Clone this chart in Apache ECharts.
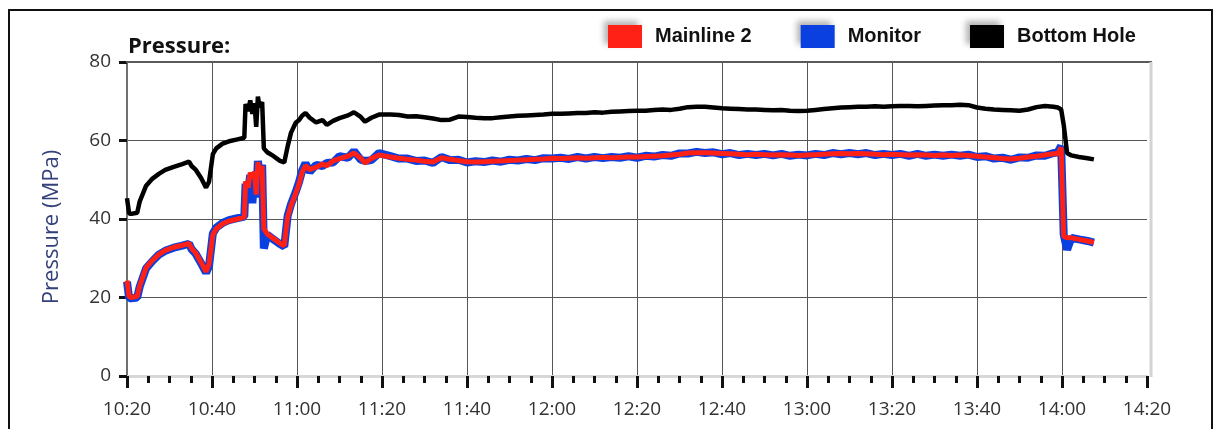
<!DOCTYPE html>
<html>
<head>
<meta charset="utf-8">
<script src="https://cdn.jsdelivr.net/npm/echarts@6/dist/echarts.min.js"></script>
<style>
html,body{margin:0;padding:0;background:#fff;}
#chart{width:1220px;height:429px;}
</style>
</head>
<body>
<div id="chart"></div>
<script>
// Time in minutes after 10:20
const minutes = [
  0, 0.5, 1, 2.4, 3, 4.5, 6, 7.5, 9, 11, 13, 14.6, 15.2, 16.2, 17.4, 18.6, 19.3, 20.2, 21, 22.5,
  24, 26, 27.6, 27.9, 28.5, 29, 29.5, 30, 30.4, 30.8, 31.2, 31.8, 32.2, 33, 34.5, 36, 37, 37.8, 38.6, 39.7,
  40.5, 41.2, 42, 43, 44.5, 46, 47, 48.5, 50, 52, 53.4, 55, 56, 57.5, 59.3,
  62, 64, 66, 68, 70, 72, 74, 76, 78, 80, 82, 84, 86, 88, 90, 92, 94, 96, 98, 100,
  102, 104, 106, 108, 110, 112, 114, 116, 118, 120, 122, 124, 126, 128, 130, 132, 134, 136, 138, 140,
  142, 144, 146, 148, 150, 152, 154, 156, 158, 160, 162, 164, 166, 168, 170, 172, 174, 176, 178, 180,
  182, 184, 186, 188, 190, 192, 194, 196, 198, 200, 202, 204, 206, 208, 210, 212, 214, 216, 218,
  219, 219.8, 220.4, 221.2, 222.2, 224, 226, 227.5
];

const bottomHole = [
  45.3, 41.4, 41.3, 41.6, 44.5, 48.5, 50.3, 51.5, 52.5, 53.3, 54.0, 54.6, 53.5, 52.5, 50.5, 48.0, 49.5, 56.5, 58.0, 59.2,
  59.8, 60.3, 60.7, 69.3, 67.5, 70.2, 66.8, 69.5, 63.5, 71.2, 68.5, 69.8, 58.0, 57.0, 56.0, 54.8, 54.4, 58.5, 62.0, 64.5,
  65.2, 66.3, 67.0, 65.8, 64.6, 65.2, 64.0, 65.0, 65.7, 66.4, 67.2, 66.0, 64.8, 65.8, 66.6,
  66.6, 66.5, 66.1, 66.2, 65.9, 65.6, 65.2, 65.3, 66.1, 66.0, 65.8, 65.7, 65.7, 65.9, 66.1, 66.3, 66.4, 66.5, 66.6, 66.8,
  66.8, 66.9, 67.0, 67.0, 67.2, 67.1, 67.3, 67.4, 67.5, 67.6, 67.6, 67.8, 67.9, 67.8, 68.1, 68.5, 68.6, 68.6, 68.4, 68.2,
  68.1, 68.0, 67.9, 67.9, 67.8, 67.7, 67.8, 67.6, 67.5, 67.6, 67.8, 68.0, 68.2, 68.4, 68.5, 68.6, 68.6, 68.7, 68.6, 68.7,
  68.8, 68.8, 68.7, 68.8, 68.9, 69.0, 69.0, 69.1, 69.0, 68.4, 68.1, 67.9, 67.8, 67.7, 67.6, 67.9, 68.5, 68.8, 68.6,
  68.4, 67.9, 64.0, 56.8, 56.2, 55.8, 55.5, 55.2
];

const mainline2 = [
  24.3, 20.2, 20.0, 20.3, 23.0, 27.6, 29.5, 31.0, 32.0, 32.8, 33.3, 33.8, 32.5, 31.3, 29.0, 26.6, 28.5, 36.0, 37.5, 38.8,
  39.5, 40.0, 40.5, 49.6, 48.0, 51.8, 50.5, 52.0, 46.2, 54.5, 52.0, 53.5, 37.5, 36.2, 35.0, 33.8, 33.2, 40.5, 43.5, 46.5,
  49.0, 51.9, 53.6, 52.6, 53.2, 54.0, 53.6, 54.8, 55.4, 56.0, 56.8, 55.5, 54.3, 55.4, 56.3,
  55.8, 55.5, 55.2, 55.0, 54.7, 54.5, 55.6, 55.2, 54.9, 54.6, 54.5, 54.6, 54.7, 54.8, 54.9, 55.0, 55.1, 55.2, 55.3, 55.5,
  55.4, 55.5, 55.6, 55.5, 55.6, 55.7, 55.6, 55.7, 55.8, 55.8, 55.9, 56.0, 56.1, 56.3, 56.5, 56.8, 56.9, 56.9, 56.8, 56.7,
  56.6, 56.5, 56.4, 56.5, 56.4, 56.3, 56.4, 56.3, 56.2, 56.3, 56.4, 56.5, 56.6, 56.7, 56.6, 56.7, 56.6, 56.5, 56.4, 56.5,
  56.4, 56.3, 56.4, 56.3, 56.2, 56.3, 56.2, 56.3, 56.2, 56.0, 55.8, 55.6, 55.4, 55.3, 55.5, 55.8, 56.0, 56.3, 56.6,
  56.6, 58.2, 35.5, 35.3, 35.2, 34.8, 34.4, 34.0
];

const monitor = [
  24.0, 19.8, 19.8, 20.0, 22.8, 27.4, 29.3, 30.9, 31.9, 32.7, 33.2, 33.7, 32.3, 31.1, 28.8, 26.3, 28.0, 36.3, 37.8, 39.0,
  39.7, 40.2, 40.6, 49.0, 47.0, 51.2, 44.0, 51.5, 45.5, 54.8, 51.5, 53.8, 32.5, 36.0, 34.8, 33.6, 33.0, 40.8, 43.8, 46.9,
  49.5, 52.3, 54.2, 52.0, 53.8, 53.5, 54.3, 54.4, 56.0, 55.6, 57.3, 55.1, 54.8, 55.0, 56.8,
  56.0, 55.4, 55.4, 54.8, 54.9, 54.3, 55.8, 55.0, 55.1, 54.4, 54.7, 54.5, 54.9, 54.6, 55.1, 54.9, 55.3, 55.0, 55.5, 55.4,
  55.6, 55.3, 55.8, 55.4, 55.8, 55.5, 55.8, 55.6, 56.0, 55.6, 56.1, 55.9, 56.3, 56.1, 56.7, 56.7, 57.1, 56.8, 57.0, 56.5,
  56.8, 56.3, 56.6, 56.3, 56.6, 56.2, 56.6, 56.1, 56.4, 56.2, 56.6, 56.3, 56.8, 56.5, 56.8, 56.5, 56.8, 56.3, 56.6, 56.3,
  56.6, 56.1, 56.6, 56.1, 56.4, 56.1, 56.4, 56.1, 56.4, 55.8, 56.0, 55.4, 55.6, 55.1, 55.7, 55.6, 56.2, 56.1, 56.8,
  57.0, 58.6, 36.0, 32.2, 35.2, 34.8, 34.4, 34.0
];

const xTickLabels = ['10:20','10:40','11:00','11:20','11:40','12:00','12:20','12:40','13:00','13:20','13:40','14:00','14:20'];
const yTicks = [0, 20, 40, 60, 80];
const seriesNames = ['Mainline 2', 'Monitor', 'Bottom Hole'];

const pair = arr => minutes.map((m, i) => [m, arr[i]]);

const chart = echarts.init(document.getElementById('chart'), null, {renderer: 'canvas'});
const gridL = 127, gridT = 62, gridR = 1147, gridB = 376;

chart.setOption({
  animation: false,
  backgroundColor: '#fff',
  title: {
    text: 'Pressure:',
    left: 123, top: 31,
    textStyle: {fontFamily: 'Open Sans', fontWeight: 'bold', fontSize: 22, color: '#111'}
  },
  legend: {
    data: seriesNames,
    left: 603, top: 20,
    icon: 'rect',
    itemWidth: 34, itemHeight: 23,
    itemGap: 49,
    itemStyle: {shadowColor: 'rgba(0,0,0,0.3)', shadowBlur: 6, shadowOffsetX: -4, shadowOffsetY: -4},
    textStyle: {fontFamily: 'Liberation Sans', fontWeight: 'bold', fontSize: 20, color: '#111', padding: [0,0,0,8]}
  },
  grid: {left: gridL, top: gridT, width: gridR - gridL, height: gridB - gridT, containLabel: false},
  xAxis: {
    type: 'value', min: 0, max: 240, interval: 20,
    axisLine: {show: true, lineStyle: {color: '#d8d8d8', width: 3}},
    axisTick: {show: true, length: 12, lineStyle: {color: '#111', width: 3}},
    minorTick: {show: true, splitNumber: 4, length: 7, lineStyle: {color: '#111', width: 3}},
    axisLabel: {
      margin: 24, fontSize: 19, color: '#333', fontFamily: 'Open Sans',
      formatter: v => xTickLabels[Math.round(v / 20)] || ''
    },
    splitLine: {show: true, showMinLine: false, showMaxLine: false, lineStyle: {color: '#555', width: 1}}
  },
  yAxis: {
    type: 'value', min: yTicks[0], max: yTicks[yTicks.length - 1], interval: 20,
    name: 'Pressure (MPa)', nameLocation: 'middle', nameGap: 64,
    nameTextStyle: {fontFamily: 'Open Sans', fontSize: 22, color: '#34407a', padding: [0, 16, 0, 0]},
    axisLine: {show: true, lineStyle: {color: '#707070', width: 2}},
    axisTick: {show: true, length: 8, lineStyle: {color: '#111', width: 3}},
    axisLabel: {margin: 16, fontSize: 19, color: '#333', fontFamily: 'Open Sans'},
    splitLine: {show: true, showMinLine: false, showMaxLine: false, lineStyle: {color: '#555', width: 1}}
  },
  graphic: [
    {type: 'rect', shape: {x: 9, y: 10, width: 1203, height: 440}, style: {fill: 'none', stroke: '#111', lineWidth: 2}, silent: true},
    {type: 'line', shape: {x1: gridL - 1, y1: gridT, x2: gridR + 5, y2: gridT}, style: {stroke: '#5a5a5a', lineWidth: 2}, silent: true, z: 10},
    {type: 'line', shape: {x1: gridR + 4, y1: gridT, x2: gridR + 4, y2: gridB + 1}, style: {stroke: '#d4d4d4', lineWidth: 3}, silent: true, z: 10}
  ],
  series: [
    {name: 'Monitor', type: 'line', data: pair(monitor), showSymbol: false, symbol: 'none', z: 2,
      color: '#0a3fe0', lineStyle: {color: '#0a3fe0', width: 8}},
    {name: 'Mainline 2', type: 'line', data: pair(mainline2), showSymbol: false, symbol: 'none', z: 3,
      color: '#ff2016', lineStyle: {color: '#ff2016', width: 5}},
    {name: 'Bottom Hole', type: 'line', data: pair(bottomHole), showSymbol: false, symbol: 'none', z: 3,
      color: '#000', lineStyle: {color: '#000', width: 4.5}}
  ]
});
</script>
</body>
</html>
